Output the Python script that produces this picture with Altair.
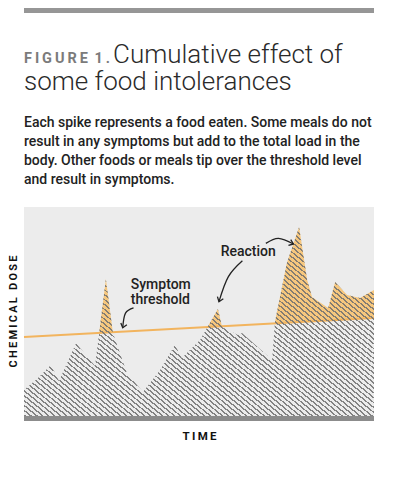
import altair as alt
import pandas as pd

# ---------------- data ----------------
time = [0, 4, 7.7, 10, 14.9, 16, 20.3, 23.4, 25.4, 29.4, 34, 38.9, 43.1, 45.1,
        50.3, 55.4, 56.6, 61.1, 62.3, 70.9, 71.7, 75.1, 78.6, 80.9, 82.3, 86.9,
        88.9, 92.3, 96, 100]
dose = [12.4, 18.2, 24.4, 16.7, 34.9, 32.5, 23.9, 65.6, 39.7, 20.6, 11.5, 22,
        34, 27.8, 36.4, 51.2, 42.6, 38.8, 39.7, 26.8, 45, 73.2, 90.4, 65.1,
        56.9, 51.7, 64.1, 57.9, 56.5, 60.3]
threshold_time = [0, 100]
threshold_dose = [37.8, 46.9]

title_tag = "F\u2009I\u2009G\u2009U\u2009R\u2009E\u2009 1\u2009."
title_line1 = "Cumulative effect of"
title_line2 = "some food intolerances"
subtitle_lines = [
    "Each spike represents a food eaten. Some meals do not",
    "result in any symptoms but add to the total load in the",
    "body. Other foods or meals tip over the threshold level",
    "and result in symptoms.",
]
x_title = "T\u2009I\u2009M\u2009E"
y_title = "\u2009".join(list("CHEMICAL")) + "\u2009 \u2009" + "\u2009".join(list("DOSE"))

# annotations
symptom_label = ["Symptom", "threshold"]
symptom_label_pos = (30.5, 60.8)
symptom_arrow_t = [31.3, 29.0, 28.2]
symptom_arrow_d = [51.7, 49.2, 42.2]
reaction_label = "Reaction"
reaction_label_pos = (56.2, 76.6)
reaction_arrow1_t = [62.4, 58.4, 55.7]
reaction_arrow1_d = [74.3, 66.7, 54.7]
reaction_arrow2_t = [69.1, 72.7, 77.0]
reaction_arrow2_d = [82.6, 85.0, 82.3]
arrowhead_t = [28.2, 55.7, 77.0]
arrowhead_d = [42.2, 54.7, 82.3]
arrowhead_angle = [16, 20, 291]

# ---------------- layout / style ----------------
W, H = 350, 209
BG = "#ececec"
ORANGE = "#f6c77e"
LINE_ORANGE = "#f2b45e"
TEXT = "#222222"
FONT = "Roboto"

profile = pd.DataFrame({"time": time, "dose": dose})
thresh = pd.DataFrame({"time": threshold_time, "dose": threshold_dose})

xs = alt.Scale(domain=[0, 100], nice=False, zero=False)
ys = alt.Scale(domain=[0, 100], nice=False, zero=True)
X = alt.X("time:Q", scale=xs,
          axis=alt.Axis(title=x_title, labels=False, ticks=False, domain=False, grid=False,
                        titleFont=FONT, titleFontSize=11.5, titleFontWeight="bold",
                        titleColor="#111", titleY=20, titleBaseline="middle"))
Y = alt.Y("dose:Q", scale=ys,
          axis=alt.Axis(title=y_title, labels=False, ticks=False, domain=False, grid=False,
                        titleFont=FONT, titleFontSize=11, titleFontWeight="bold",
                        titleColor="#111", titleAngle=270, titleX=-10.5, titleY=104,
                        titleAlign="center", titleBaseline="middle"))

# hatching as a striped linear gradient across the profile's bounding box
bw = W
bh = H * max(dose) / 100.0
s = 0.82  # stripe slope (screen)
gx, gy = s / bh, -1.0 / bw
fac = (s / bh + 1.0 / bw) / (gx * gx + gy * gy)
x2g, y2g = gx * fac, 1 + gy * fac
n = int(round((bw + bh / s) / 6.0))
duty = 0.36
stripe = "rgba(112,112,112,0.85)"
clear = "rgba(112,112,112,0)"
stops = []
for i in range(n):
    a = i / n
    b = (i + duty) / n
    c = (i + 1) / n
    stops += [alt.GradientStop(color=stripe, offset=a),
              alt.GradientStop(color=stripe, offset=b),
              alt.GradientStop(color=clear, offset=b),
              alt.GradientStop(color=clear, offset=c)]
hatch = alt.LinearGradient(gradient="linear", stops=stops, x1=0, y1=1, x2=x2g, y2=y2g)

area_orange = alt.Chart(profile).mark_area(color=ORANGE, interpolate="linear").encode(x=X, y=Y)
area_cover = alt.Chart(thresh).mark_area(color=BG).encode(x="time:Q", y="dose:Q")
thr_line = alt.Chart(thresh).mark_line(color=LINE_ORANGE, strokeWidth=2).encode(x="time:Q", y="dose:Q")
area_hatch = alt.Chart(profile).mark_area(fill=hatch, interpolate="linear").encode(x="time:Q", y="dose:Q")

bottom_bar = alt.Chart(pd.DataFrame({"k": [0]})).mark_rule(color="#8c8c8c", strokeWidth=5).encode(
    x=alt.value(0), x2=alt.value(W), y=alt.value(H + 2.5))
top_bar = alt.Chart(pd.DataFrame({"k": [0]})).mark_rule(color="#969696", strokeWidth=5).encode(
    x=alt.value(0), x2=alt.value(W), y=alt.value(-196.5))


def txt(label, x, y, size, weight, color, line_height=None):
    kw = dict(align="left", baseline="alphabetic", font=FONT, fontSize=size,
              fontWeight=weight, color=color, text=label)
    if line_height:
        kw["lineHeight"] = line_height
    return alt.Chart(pd.DataFrame({"k": [0]})).mark_text(**kw).encode(
        x=alt.value(x), y=alt.value(y))


t_tag = txt(title_tag, 0, -144, 14.5, "bold", "#7b7b7b")
t_l1 = txt(title_line1, 89, -144, 26, 300, "#2a2a2a")
t_l2 = txt(title_line2, 0, -117, 26, 300, "#2a2a2a")
t_sub = txt(subtitle_lines, 0, -80, 14, 500, TEXT, 19)

sym_text = alt.Chart(pd.DataFrame({"time": [symptom_label_pos[0]], "dose": [symptom_label_pos[1]]})).mark_text(
    text=symptom_label, align="left", baseline="alphabetic", font=FONT, fontSize=14,
    fontWeight=500, color=TEXT, lineHeight=15).encode(x="time:Q", y="dose:Q")
rea_text = alt.Chart(pd.DataFrame({"time": [reaction_label_pos[0]], "dose": [reaction_label_pos[1]]})).mark_text(
    text=reaction_label, align="left", baseline="alphabetic", font=FONT, fontSize=14,
    fontWeight=500, color=TEXT).encode(x="time:Q", y="dose:Q")


def arrow(ts, ds):
    return alt.Chart(pd.DataFrame({"time": ts, "dose": ds, "o": list(range(len(ts)))})).mark_line(
        color=TEXT, strokeWidth=1.3, interpolate="natural").encode(
        x="time:Q", y="dose:Q", order="o:Q")


heads = alt.Chart(pd.DataFrame({"time": arrowhead_t, "dose": arrowhead_d, "ang": arrowhead_angle})).mark_point(
    shape="M -0.75 -1 L 0 0 L 0.75 -1", filled=False, stroke=TEXT, strokeWidth=1.3, size=70, opacity=1).encode(
    x="time:Q", y="dose:Q", angle=alt.Angle("ang:Q", scale=None))

chart = alt.layer(
    area_orange, area_cover, thr_line, area_hatch, bottom_bar, top_bar,
    t_tag, t_l1, t_l2, t_sub,
    sym_text, rea_text,
    arrow(symptom_arrow_t, symptom_arrow_d),
    arrow(reaction_arrow1_t, reaction_arrow1_d),
    arrow(reaction_arrow2_t, reaction_arrow2_d),
    heads,
).properties(
    width=W, height=H, autosize="none",
    padding={"left": 16, "top": 199, "right": 14, "bottom": 40},
    background="white",
).configure_view(fill=BG, strokeWidth=0)

chart.save("out.html", embed_options={"renderer": "svg", "actions": False})
